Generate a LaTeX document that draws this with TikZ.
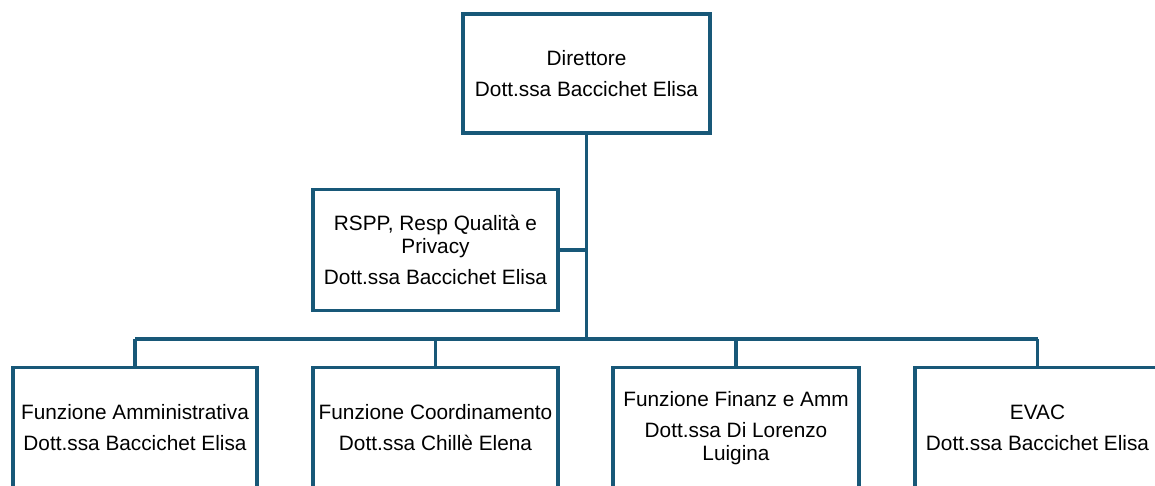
\documentclass[tikz,border=0pt]{standalone}
\usepackage{fontspec}
\setmainfont{Liberation Sans}
\usetikzlibrary{positioning}
\definecolor{orgblue}{RGB}{24,88,120}

\begin{document}
\begin{tikzpicture}[x=1pt,y=-1pt,
	box/.style={draw=orgblue,line width=3.8pt,minimum width=245pt,minimum height=121pt,inner sep=0pt,align=center,font=\fontsize{20.8}{23}\selectfont},
	link/.style={draw=orgblue,line width=3.8pt}]
	\useasboundingbox (0,0) rectangle (1155,486);
	\clip (0,0) rectangle (1155,486);
	% vertici
	\node[box,minimum width=247pt,minimum height=119pt] (dir) at (586.5,73.5) {Direttore\\[8pt]Dott.ssa Baccichet Elisa};
	\node[box] (rspp) at (435.5,250) {RSPP, Resp Qualità e\\Privacy\\[8pt]Dott.ssa Baccichet Elisa};
	% funzioni
	\node[box,minimum width=244pt] (fa) at (135,428) {Funzione Amministrativa\\[8pt]Dott.ssa Baccichet Elisa};
	\node[box] (fc) at (435.5,428) {Funzione Coordinamento\\[8pt]Dott.ssa Chillè Elena};
	\node[box,minimum width=246pt] (ff) at (736,428) {Funzione Finanz e Amm\\[8pt]Dott.ssa Di Lorenzo\\Luigina};
	\node[box] (evac) at (1037.5,428) {EVAC\\[8pt]Dott.ssa Baccichet Elisa};
	\coordinate (bus) at (587,339);
	% collegamenti
	\draw[link] (dir.south) -- (dir.south |- bus);
	\draw[link] (rspp.east) -- (rspp.east -| dir.south);
	\draw[link] (fa.north |- bus) -- (evac.north |- bus);
	\foreach \n in {fa,fc,ff,evac}
		\draw[link] (\n.north) -- (\n.north |- bus);
\end{tikzpicture}
\end{document}
